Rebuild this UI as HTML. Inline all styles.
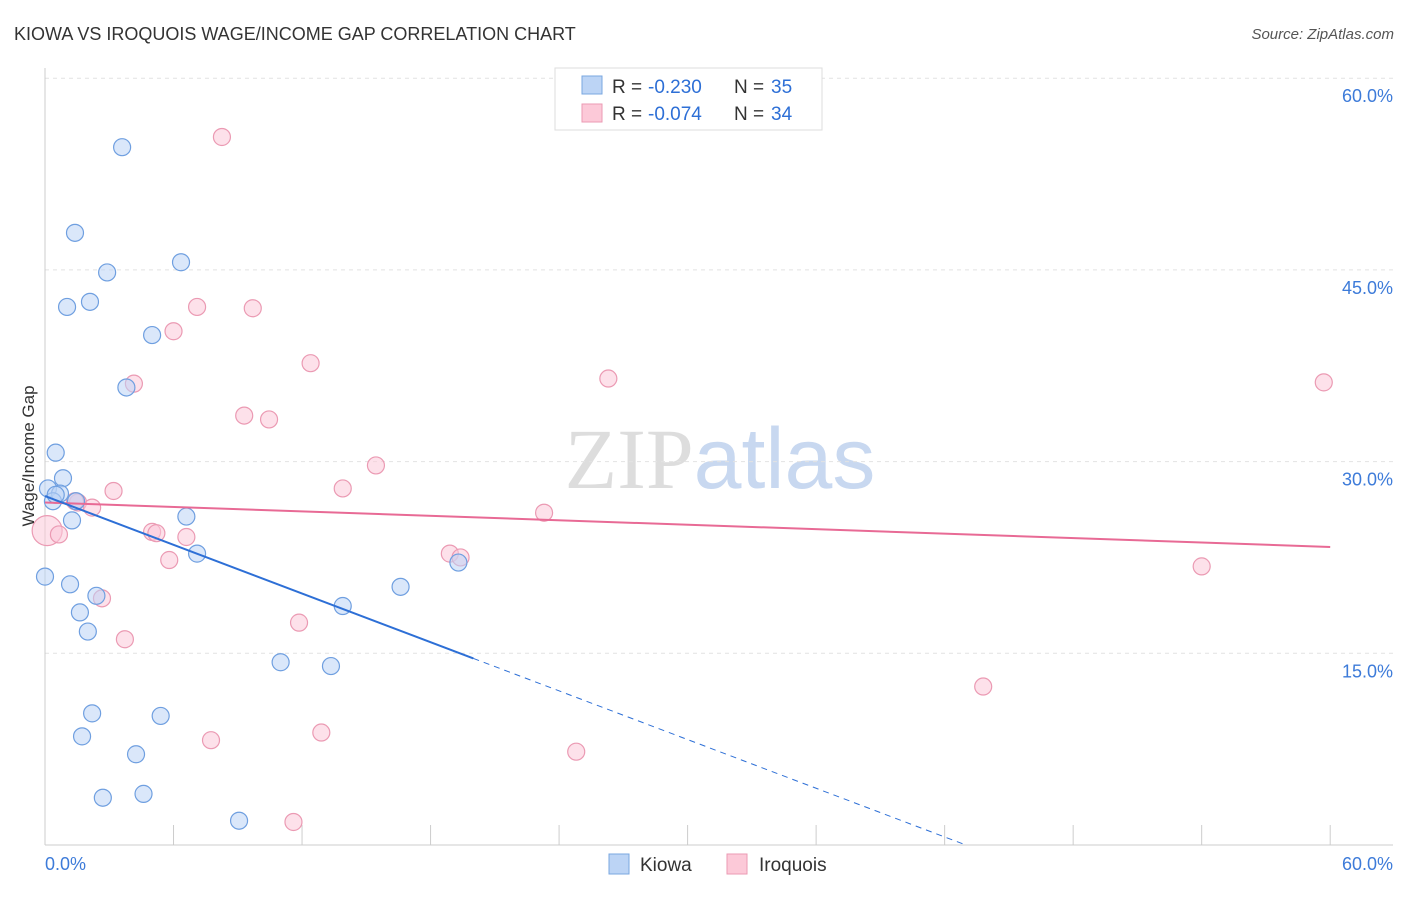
<!DOCTYPE html>
<html><head><meta charset="utf-8"><style>
body{margin:0;background:#fff;font-family:"Liberation Sans",sans-serif}
</style></head><body>
<svg id="chart" width="1406" height="892" xmlns="http://www.w3.org/2000/svg" font-family="Liberation Sans, sans-serif">
<text x="14" y="40" font-size="18" fill="#333">KIOWA VS IROQUOIS WAGE/INCOME GAP CORRELATION CHART</text>
<text x="1394" y="39" font-size="15" fill="#555" text-anchor="end" font-style="italic">Source: ZipAtlas.com</text>
<text x="720" y="488" font-size="86" text-anchor="middle"><tspan fill="#ddd" font-family="Liberation Serif, serif">ZIP</tspan><tspan fill="#c8d8f0">atlas</tspan></text>
<g id="grid"></g><g id="axes"></g><g id="marks"></g>
<text transform="translate(34,456) rotate(-90)" font-size="17" fill="#333" text-anchor="middle">Wage/Income Gap</text>
<g>
<rect x="555" y="68" width="267" height="62" fill="#fff" stroke="#ddd"/>
<rect x="582" y="76" width="20" height="18" fill="#bcd4f5" stroke="#7aa7e0"/>
<rect x="582" y="104" width="20" height="18" fill="#fcc9d8" stroke="#eb9ab3"/>
<text x="612" y="93" font-size="19" fill="#333">R =</text>
<text x="648" y="93" font-size="19" fill="#2d6fd6">-0.230</text>
<text x="734" y="93" font-size="19" fill="#333">N =</text>
<text x="771" y="93" font-size="19" fill="#2d6fd6">35</text>
<text x="612" y="120" font-size="19" fill="#333">R =</text>
<text x="648" y="120" font-size="19" fill="#2d6fd6">-0.074</text>
<text x="734" y="120" font-size="19" fill="#333">N =</text>
<text x="771" y="120" font-size="19" fill="#2d6fd6">34</text>
</g>
<g>
<rect x="609" y="854" width="20" height="20" fill="#bcd4f5" stroke="#7aa7e0"/>
<text x="640" y="871" font-size="19" fill="#333">Kiowa</text>
<rect x="727" y="854" width="20" height="20" fill="#fcc9d8" stroke="#eb9ab3"/>
<text x="759" y="871" font-size="19" fill="#333">Iroquois</text>
</g>
</svg>
<script>
const yTicks=[15,30,45,60];
const yTickLabels=["15.0%","30.0%","45.0%","60.0%"];
const xTickVals=[0,6,12,18,24,30,36,42,48,54,60];
const kiowaX=[3.6,1.4,6.35,2.9,1.03,2.1,5.0,3.8,0.5,0.84,0.14,0.7,0.37,1.45,1.26,6.6,7.1,0,1.17,2.4,1.63,2.0,13.9,16.6,19.3,11.0,13.35,2.2,5.4,1.73,4.25,2.7,4.6,9.06,0.5];
const kiowaY=[54.6,47.9,45.6,44.8,42.1,42.5,39.9,35.8,30.7,28.7,27.9,27.5,26.9,26.9,25.4,25.7,22.8,21.0,20.4,19.5,18.2,16.7,18.7,20.2,22.1,14.3,14.0,10.3,10.1,8.5,7.1,3.7,4.0,1.9,27.4];
const iroX=[8.26,7.1,9.7,6.0,12.4,4.15,9.3,10.46,26.3,59.7,15.45,3.2,13.9,1.54,2.2,23.3,0.1,0.65,5.0,6.6,5.8,18.9,19.4,54.0,2.66,11.86,3.73,43.8,12.9,7.75,24.8,11.6,1.4,5.2];
const iroY=[55.4,42.1,42.0,40.2,37.7,36.1,33.6,33.3,36.5,36.2,29.7,27.7,27.9,26.8,26.4,26.0,24.6,24.3,24.5,24.1,22.3,22.8,22.5,21.8,19.3,17.4,16.1,12.4,8.8,8.2,7.3,1.8,26.9,24.4];
const kiowaLine=[27.3,-0.635];
const iroLine=[26.8,-0.058];
const NS="http://www.w3.org/2000/svg";
const X=v=>45+v*21.42, Y=v=>845-v*12.78;
function mk(t,a,p){const e=document.createElementNS(NS,t);for(const k in a)e.setAttribute(k,a[k]);p.appendChild(e);return e;}
const grid=document.getElementById('grid'),axes=document.getElementById('axes'),marks=document.getElementById('marks');
yTicks.forEach((v,i)=>{
 const l=mk('line',{x1:45,x2:1393,y1:Y(v),y2:Y(v),stroke:'#e2e2e2','stroke-dasharray':'4,4'},grid);
 
 
 const t=mk('text',{x:1393,y:Y(v)+24,'font-size':18,fill:'#3d7bd9','text-anchor':'end'},axes);
 t.textContent=yTickLabels[i];
 
 
});
const ax=mk('line',{x1:45,x2:45,y1:68,y2:845,stroke:'#ccc'},axes);


const bx=mk('line',{x1:45,x2:1393,y1:845,y2:845,stroke:'#ccc'},axes);


xTickVals.forEach(v=>{
 const l=mk('line',{x1:X(v),x2:X(v),y1:825,y2:845,stroke:'#ccc'},axes);
 
 
});
const x0=mk('text',{x:45,y:870,'font-size':18,fill:'#3d7bd9'},axes);x0.textContent='0.0%';


const x1=mk('text',{x:1393,y:870,'font-size':18,fill:'#3d7bd9','text-anchor':'end'},axes);x1.textContent='60.0%';


function pts(xs,ys,fill,stroke,name){xs.forEach((x,i)=>{
 const c=mk('circle',{cx:X(x),cy:Y(ys[i]),r:(name==='iroquois-point'&&i===16)?15:8.5,fill:fill,'fill-opacity':0.55,stroke:stroke,'stroke-width':1.2},marks);
 
 
});}
pts(iroX,iroY,'#fcc9d8','#eb9ab3','iroquois-point');
pts(kiowaX,kiowaY,'#bcd4f5','#6f9fe0','kiowa-point');
const pl=mk('line',{x1:X(0),y1:Y(iroLine[0]),x2:X(60),y2:Y(iroLine[0]+iroLine[1]*60),stroke:'#e86a95','stroke-width':2},marks);


const kl=mk('line',{x1:X(0),y1:Y(kiowaLine[0]),x2:X(20),y2:Y(kiowaLine[0]+kiowaLine[1]*20),stroke:'#2d6fd6','stroke-width':2},marks);


const xe=-kiowaLine[0]/kiowaLine[1];
const kd=mk('line',{x1:X(20),y1:Y(kiowaLine[0]+kiowaLine[1]*20),x2:X(xe),y2:Y(0),stroke:'#2d6fd6','stroke-width':1,'stroke-dasharray':'6,5'},marks);


</script>
</body></html>
